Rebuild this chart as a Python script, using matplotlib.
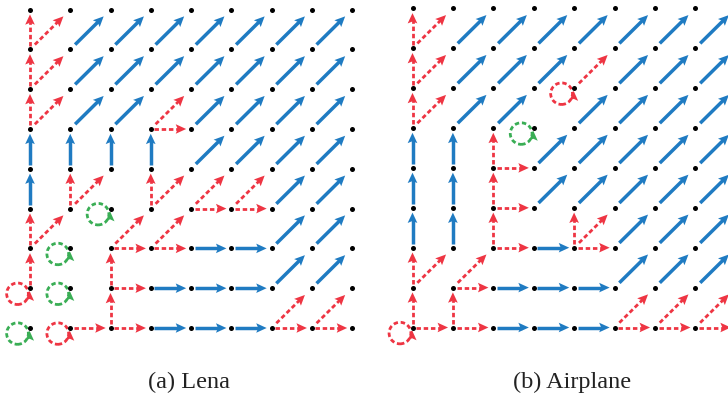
import matplotlib.pyplot as plt
import numpy as np
from matplotlib.patches import Circle, Polygon

BLUE = '#1f7bc2'
RED = '#ee3543'
GREEN = '#3aae55'

N = 9  # 9x9 grid of points
# moves: u = up, r = right, d = diagonal (up-right)
moves = {'u': (0, 1), 'r': (1, 0), 'd': (1, 1)}

# (a) Lena
lena_blue = ([(i, 7, 'd') for i in range(1, 8)] + [(i, 6, 'd') for i in range(1, 8)] +
             [(1, 5, 'd'), (2, 5, 'd'), (4, 5, 'd'), (5, 5, 'd'), (6, 5, 'd'), (7, 5, 'd')] +
             [(0, 4, 'u'), (1, 4, 'u'), (2, 4, 'u'), (3, 4, 'u'),
              (4, 4, 'd'), (5, 4, 'd'), (6, 4, 'd'), (7, 4, 'd')] +
             [(0, 3, 'u'), (6, 3, 'd'), (7, 3, 'd')] +
             [(4, 2, 'r'), (5, 2, 'r'), (6, 2, 'd'), (7, 2, 'd')] +
             [(3, 1, 'r'), (4, 1, 'r'), (5, 1, 'r'), (6, 1, 'd'), (7, 1, 'd')] +
             [(3, 0, 'r'), (4, 0, 'r'), (5, 0, 'r')])
lena_red = [(0, 7, 'u'), (0, 7, 'd'), (0, 6, 'u'), (0, 6, 'd'), (0, 5, 'u'), (0, 5, 'd'),
            (3, 5, 'r'), (3, 5, 'd'),
            (1, 3, 'u'), (1, 3, 'd'), (3, 3, 'u'), (3, 3, 'd'), (4, 3, 'r'), (4, 3, 'd'),
            (5, 3, 'r'), (5, 3, 'd'),
            (0, 2, 'u'), (0, 2, 'd'), (2, 2, 'r'), (2, 2, 'd'), (3, 2, 'r'), (3, 2, 'd'),
            (0, 1, 'u'), (2, 1, 'u'), (2, 1, 'r'),
            (1, 0, 'r'), (2, 0, 'u'), (2, 0, 'r'), (6, 0, 'r'), (6, 0, 'd'), (7, 0, 'r'), (7, 0, 'd')]
lena_loop_red = [(0, 1), (1, 0)]
lena_loop_green = [(0, 0), (1, 1), (1, 2), (2, 3)]

# (b) Airplane
plane_blue = ([(i, 7, 'd') for i in range(1, 8)] +
              [(1, 6, 'd'), (2, 6, 'd'), (3, 6, 'd'), (5, 6, 'd'), (6, 6, 'd'), (7, 6, 'd')] +
              [(1, 5, 'd'), (2, 5, 'd'), (4, 5, 'd'), (5, 5, 'd'), (6, 5, 'd'), (7, 5, 'd')] +
              [(0, 4, 'u'), (1, 4, 'u'), (3, 4, 'd'), (4, 4, 'd'), (5, 4, 'd'), (6, 4, 'd'), (7, 4, 'd')] +
              [(0, 3, 'u'), (1, 3, 'u'), (3, 3, 'd'), (4, 3, 'd'), (5, 3, 'd'), (6, 3, 'd'), (7, 3, 'd')] +
              [(0, 2, 'u'), (1, 2, 'u'), (3, 2, 'r'), (5, 2, 'd'), (6, 2, 'd'), (7, 2, 'd')] +
              [(2, 1, 'r'), (3, 1, 'r'), (4, 1, 'r'), (5, 1, 'd'), (6, 1, 'd'), (7, 1, 'd')] +
              [(2, 0, 'r'), (3, 0, 'r'), (4, 0, 'r')])
plane_red = [(0, 7, 'u'), (0, 7, 'd'), (0, 6, 'u'), (0, 6, 'd'), (0, 5, 'u'), (0, 5, 'd'),
             (4, 6, 'd'),
             (2, 4, 'u'), (2, 4, 'r'), (2, 3, 'u'), (2, 3, 'r'),
             (2, 2, 'u'), (2, 2, 'r'), (4, 2, 'u'), (4, 2, 'r'), (4, 2, 'd'),
             (0, 1, 'u'), (0, 1, 'd'), (1, 1, 'r'), (1, 1, 'd'),
             (0, 0, 'u'), (0, 0, 'r'), (1, 0, 'u'), (1, 0, 'r'),
             (5, 0, 'r'), (5, 0, 'd'), (6, 0, 'r'), (6, 0, 'd'), (7, 0, 'r'), (7, 0, 'd')]
plane_loop_red = [(0, 0), (4, 6)]
plane_loop_green = [(3, 5)]

titles = ['(a) Lena', '(b) Airplane']


def head(ax, tip, ux, uy, color, hl=0.26, hw=0.12):
    bx, by = tip[0] - ux*hl, tip[1] - uy*hl
    # slightly notched head
    nx, ny = bx + ux*0.05, by + uy*0.05
    pts = [tip, (bx - uy*hw, by + ux*hw), (nx, ny), (bx + uy*hw, by - ux*hw)]
    ax.add_patch(Polygon(pts, closed=True, facecolor=color, edgecolor='none', zorder=3))
    return nx, ny


def arrow(ax, x, y, m, color, dashed):
    dx, dy = moves[m]
    L = np.hypot(dx, dy)
    ux, uy = dx/L, dy/L
    if m == 'd':
        a, b = 0.17, 0.24
    else:
        a, b = 0.09, 0.12
    x0, y0 = x + ux*a, y + uy*a
    tip = (x + dx - ux*b, y + dy - uy*b)
    bx, by = head(ax, tip, ux, uy, color)
    if dashed:
        ax.plot([x0, bx + ux*0.03], [y0, by + uy*0.03], color=color, lw=2.0,
                dashes=(1.6, 1.0), solid_capstyle='butt', dash_capstyle='butt', zorder=2)
    else:
        ax.plot([x0, bx + ux*0.03], [y0, by + uy*0.03], color=color, lw=2.5,
                solid_capstyle='butt', zorder=2)


def loop(ax, x, y, color):
    ax.add_patch(Circle((x - 0.31, y - 0.14), 0.27, fill=False, edgecolor=color, lw=2.0,
                        linestyle=(0, (1.6, 1.0)), zorder=2))
    head(ax, (x - 0.01, y - 0.07), 0, 1, color, hl=0.25, hw=0.11)


fig = plt.figure(figsize=(7.28, 3.99), dpi=100)

# pixel placement of each panel: column 0 x, row 0 y, spacing x, spacing y
panels = [(30, 328, 40.25, 39.8), (412.5, 327.5, 40.4, 39.9)]
data = [(lena_blue, lena_red, lena_loop_red, lena_loop_green),
        (plane_blue, plane_red, plane_loop_red, plane_loop_green)]
xl, yl = (-0.75, 8.6), (-0.8, 8.4)

for (px, py, sx, sy), (blue, red, lred, lgreen), title in zip(panels, data, titles):
    left = px + xl[0]*sx
    bottom = py - yl[0]*sy
    w = (xl[1] - xl[0])*sx
    h = (yl[1] - yl[0])*sy
    ax = fig.add_axes([left/728, 1 - bottom/399, w/728, h/399])
    ax.set_xlim(xl)
    ax.set_ylim(yl)
    ax.axis('off')
    gx, gy = np.meshgrid(np.arange(N), np.arange(N))
    ax.scatter(gx.ravel(), gy.ravel(), s=13, color='black', zorder=4, linewidths=0)
    for x, y, m in blue:
        arrow(ax, x, y, m, BLUE, False)
    for x, y, m in red:
        arrow(ax, x, y, m, RED, True)
    for x, y in lred:
        loop(ax, x, y, RED)
    for x, y in lgreen:
        loop(ax, x, y, GREEN)
    fig.text((px + 4*sx)/728 - 0.003, 1 - 382/399, title, ha='center', va='center',
             fontsize=17.5, family='Liberation Serif', color='#222222')

fig.savefig('out.png', dpi=100)
